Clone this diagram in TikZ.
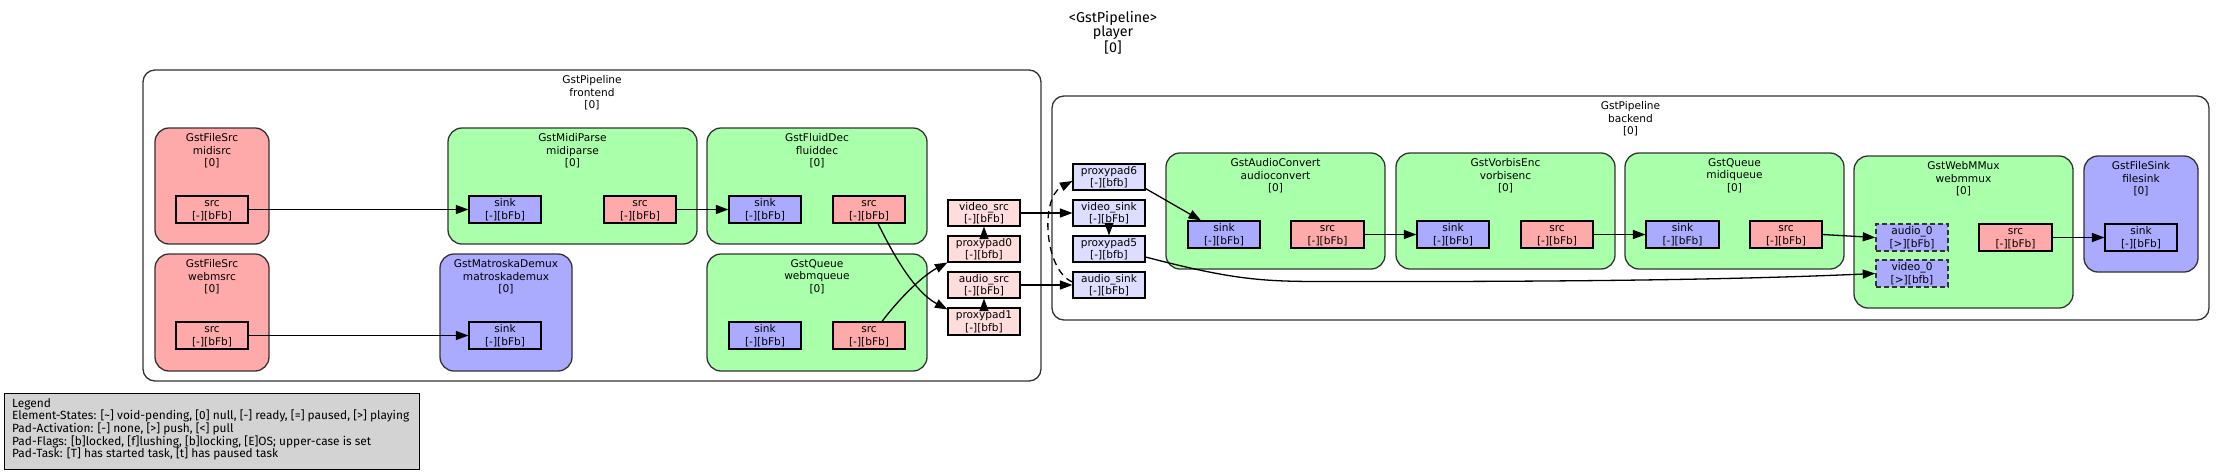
\documentclass[tikz,border=0pt]{standalone}
\usepackage{fontspec}
\setmainfont{DejaVu Sans}
\newfontfamily\uifont{Fira Sans}
\usetikzlibrary{arrows.meta}
\definecolor{srcred}{HTML}{FFAAAA}
\definecolor{sinkblue}{HTML}{AAAAFF}
\definecolor{filtgreen}{HTML}{AAFFAA}
\definecolor{gsrc}{HTML}{FFDDDD}
\definecolor{gsink}{HTML}{DDDDFF}
\definecolor{leggray}{HTML}{D3D3D3}
\definecolor{bord}{HTML}{333333}
\newcommand\ls{\rule{0pt}{8.1pt}}
\newcommand\padbox[7]{%
  \node[pad,#6,minimum width={(#4-#2)*1pt},minimum height={(#5-#3)*1pt}] (#1) at ({(#2+#4)/2},{(#3+#5)/2}) {\ls #7};}
\newcommand\elembox[7]{%
  \node[elem,#6,minimum width={(#4-#2)*1pt},minimum height={(#5-#3)*1pt}] (#1) at ({(#2+#4)/2},{(#3+#5)/2}) {};
  \node[elbl,anchor=north] (#1-lbl) at ([yshift=-6pt]#1.north) {#7};}
\begin{document}
\begin{tikzpicture}[x=1pt,y=-1pt,
  nodefont/.style={font=\fontsize{10.6pt}{12.4pt}\selectfont},
  elem/.style={draw=bord,line width=1.3pt,rounded corners=14pt,inner sep=0pt},
  clus/.style={draw=bord,fill=white,line width=1.3pt,rounded corners=12pt,inner sep=0pt},
  elbl/.style={nodefont,align=center,inner sep=0pt},
  pad/.style={draw=black,line width=1.1pt,inner sep=0pt,align=center,nodefont},
  dpad/.style={draw=bord,dash pattern=on 5pt off 3pt,line width=1.5pt},
  edgeln/.style={draw=black,line width=1.3pt,-{Triangle[length=12.5pt,width=9pt]}},
  dlink/.style={dash pattern=on 7pt off 5pt},
  legbox/.style={draw=black,fill=leggray,line width=1.2pt,inner sep=0pt},
  legtext/.style={font=\uifont\fontsize{11.9pt}{12.67pt}\selectfont,align=left,inner sep=0pt},
  ttl/.style={font=\uifont\fontsize{14.3pt}{14.4pt}\selectfont,align=center,inner sep=0pt}]
\useasboundingbox[fill=white] (0,0) rectangle (2225,475);

\node[ttl,anchor=north] (title) at (1113,11) {\textless GstPipeline\textgreater\\player\\{[0]}};

% clusters
\elembox{frontend}{143}{70}{1041}{381}{clus}{GstPipeline\\frontend\\{[0]}}
\elembox{backend}{1052}{96}{2209}{320}{clus}{GstPipeline\\backend\\{[0]}}

% elements
\elembox{midisrc}{155}{128}{269}{244}{fill=srcred}{GstFileSrc\\midisrc\\{[0]}}
\elembox{webmsrc}{155}{254}{269}{371}{fill=srcred}{GstFileSrc\\webmsrc\\{[0]}}
\elembox{midiparse}{448}{128}{697}{244}{fill=filtgreen}{GstMidiParse\\midiparse\\{[0]}}
\elembox{matroskademux}{440}{254}{572}{371}{fill=sinkblue}{GstMatroskaDemux\\matroskademux\\{[0]}}
\elembox{fluiddec}{707}{128}{927}{244}{fill=filtgreen}{GstFluidDec\\fluiddec\\{[0]}}
\elembox{webmqueue}{707}{254}{927}{371}{fill=filtgreen}{GstQueue\\webmqueue\\{[0]}}
\elembox{audioconvert}{1166}{153}{1385}{269}{fill=filtgreen}{GstAudioConvert\\audioconvert\\{[0]}}
\elembox{vorbisenc}{1396}{153}{1615}{269}{fill=filtgreen}{GstVorbisEnc\\vorbisenc\\{[0]}}
\elembox{midiqueue}{1625}{153}{1844}{269}{fill=filtgreen}{GstQueue\\midiqueue\\{[0]}}
\elembox{webmmux}{1854}{156}{2073}{308}{fill=filtgreen}{GstWebMMux\\webmmux\\{[0]}}
\elembox{filesink}{2084}{156}{2198}{272}{fill=sinkblue}{GstFileSink\\filesink\\{[0]}}

% pads
\padbox{midisrc-src}{176}{196}{248}{223}{fill=srcred}{src\\{[-][bFb]}}
\padbox{webmsrc-src}{176}{322}{248}{349}{fill=srcred}{src\\{[-][bFb]}}
\padbox{midiparse-sink}{469}{196}{541}{223}{fill=sinkblue}{sink\\{[-][bFb]}}
\padbox{midiparse-src}{604}{196}{676}{223}{fill=srcred}{src\\{[-][bFb]}}
\padbox{matroskademux-sink}{469}{322}{541}{349}{fill=sinkblue}{sink\\{[-][bFb]}}
\padbox{fluiddec-sink}{729}{196}{801}{223}{fill=sinkblue}{sink\\{[-][bFb]}}
\padbox{fluiddec-src}{833}{196}{905}{223}{fill=srcred}{src\\{[-][bFb]}}
\padbox{webmqueue-sink}{729}{322}{801}{349}{fill=sinkblue}{sink\\{[-][bFb]}}
\padbox{webmqueue-src}{833}{322}{905}{349}{fill=srcred}{src\\{[-][bFb]}}
\padbox{videosrc}{948}{200}{1020}{226}{fill=gsrc}{video\_src\\{[-][bFb]}}
\padbox{proxypad0}{948}{236}{1020}{262}{fill=gsrc}{proxypad0\\{[-][bfb]}}
\padbox{audiosrc}{948}{272}{1020}{298}{fill=gsrc}{audio\_src\\{[-][bFb]}}
\padbox{proxypad1}{948}{308}{1020}{335}{fill=gsrc}{proxypad1\\{[-][bfb]}}
\padbox{proxypad6}{1073}{164}{1145}{190}{fill=gsink}{proxypad6\\{[-][bfb]}}
\padbox{videosink}{1073}{200}{1145}{226}{fill=gsink}{video\_sink\\{[-][bFb]}}
\padbox{proxypad5}{1073}{236}{1145}{262}{fill=gsink}{proxypad5\\{[-][bfb]}}
\padbox{audiosink}{1073}{272}{1145}{298}{fill=gsink}{audio\_sink\\{[-][bFb]}}
\padbox{audioconvert-sink}{1188}{221}{1260}{248}{fill=sinkblue}{sink\\{[-][bFb]}}
\padbox{audioconvert-src}{1291}{221}{1364}{248}{fill=srcred}{src\\{[-][bFb]}}
\padbox{vorbisenc-sink}{1417}{221}{1489}{248}{fill=sinkblue}{sink\\{[-][bFb]}}
\padbox{vorbisenc-src}{1521}{221}{1593}{248}{fill=srcred}{src\\{[-][bFb]}}
\padbox{midiqueue-sink}{1646}{221}{1719}{248}{fill=sinkblue}{sink\\{[-][bFb]}}
\padbox{midiqueue-src}{1750}{221}{1822}{248}{fill=srcred}{src\\{[-][bFb]}}
\padbox{webmmux-audio}{1876}{224}{1948}{251}{fill=sinkblue,dpad}{audio\_0\\{[>][bFb]}}
\padbox{webmmux-video}{1876}{260}{1948}{287}{fill=sinkblue,dpad}{video\_0\\{[>][bfb]}}
\padbox{webmmux-src}{1979}{224}{2052}{251}{fill=srcred}{src\\{[-][bFb]}}
\padbox{filesink-sink}{2105}{224}{2177}{251}{fill=sinkblue}{sink\\{[-][bFb]}}

% links
\draw[edgeln] (midisrc-src.east) -- (midiparse-sink.west);
\draw[edgeln] (midiparse-src.east) -- (fluiddec-sink.west);
\draw[edgeln] (webmsrc-src.east) -- (matroskademux-sink.west);
\draw[edgeln] ([xshift=9pt]fluiddec-src.south) .. controls (895,258) and (915,292) .. ([yshift=-2pt]proxypad1.north west);
\draw[edgeln] ([xshift=13pt]webmqueue-src.north) .. controls (898,300) and (922,276) .. (proxypad0.south west);
\draw[edgeln] (proxypad0.north) -- (videosrc.south);
\draw[edgeln] (proxypad1.north) -- (audiosrc.south);
\draw[edgeln] (videosrc.east) -- (videosink.west);
\draw[edgeln] (audiosrc.east) -- (audiosink.west);
\draw[edgeln,dlink] ([yshift=3pt]audiosink.west) .. controls (1044,270) and (1040,198) .. ([yshift=-4pt]proxypad6.west);
\draw[edgeln] (videosink.south) -- (proxypad5.north);
\draw[edgeln] ([yshift=2pt]proxypad6.south east) -- ([xshift=-23pt]audioconvert-sink.north);
\draw[edgeln] (audioconvert-src.east) -- (vorbisenc-sink.west);
\draw[edgeln] (vorbisenc-src.east) -- (midiqueue-sink.west);
\draw[edgeln] (midiqueue-src.east) -- (webmmux-audio.west);
\draw[edgeln] ([yshift=-8pt]proxypad5.east) .. controls (1230,279) and (1260,281.5) .. (1320,281.5) .. controls (1600,282) and (1750,279) .. (webmmux-video.west);
\draw[edgeln] (webmmux-src.east) -- (filesink-sink.west);

% legend
\node[legbox,minimum width=415pt,minimum height=76pt,anchor=north west] (legend) at (4,393) {};
\node[legtext,anchor=north west] (legend-txt) at (12,398) {Legend\\
Element-States: [\textasciitilde] void-pending, [0] null, [-] ready, [=] paused, [>] playing\\
Pad-Activation: [-] none, [>] push, [<] pull\\
Pad-Flags: [b]locked, [f]lushing, [b]locking, [E]OS; upper-case is set\\
Pad-Task: [T] has started task, [t] has paused task};
\end{tikzpicture}
\end{document}
